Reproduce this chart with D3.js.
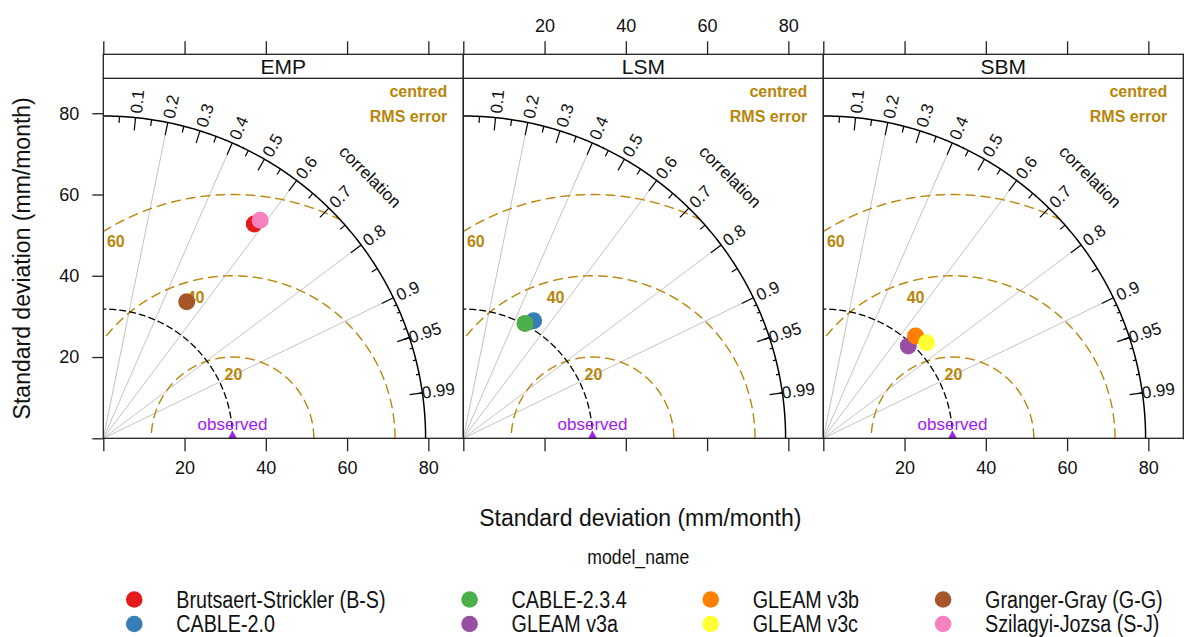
<!DOCTYPE html>
<html>
<head>
<meta charset="utf-8">
<script src="https://cdn.jsdelivr.net/npm/d3@7"></script>
<style>
  body { margin: 0; background: #fff; }
  text { font-family: "Liberation Sans", Arial, sans-serif; }
</style>
</head>
<body>
<div id="chart"></div>
<script>
// ---- data ----
var panels = ["EMP", "LSM", "SBM"];
var models = ["Brutsaert-Strickler (B-S)", "CABLE-2.0", "CABLE-2.3.4", "GLEAM v3a",
              "GLEAM v3b", "GLEAM v3c", "Granger-Gray (G-G)", "Szilagyi-Jozsa (S-J)"];
var modelColors = ["#E41A1C", "#377EB8", "#4DAF4A", "#984EA3", "#FF7F00", "#FFFF33", "#A65628", "#F781BF"];

var sdObs = 31.8;   // observed standard deviation (same in every panel)

// one entry per plotted model point
var pointPanel = ["EMP", "EMP", "EMP", "LSM", "LSM", "SBM", "SBM", "SBM"];
var pointModel = ["Brutsaert-Strickler (B-S)", "Granger-Gray (G-G)", "Szilagyi-Jozsa (S-J)",
                  "CABLE-2.0", "CABLE-2.3.4", "GLEAM v3a", "GLEAM v3b", "GLEAM v3c"];
var pointSd  = [64.5, 39.4, 66.1, 33.7, 32.1, 30.9, 33.9, 34.6];
var pointCor = [0.576, 0.521, 0.584, 0.514, 0.473, 0.677, 0.670, 0.734];

var axisTicks = [0, 20, 40, 60, 80];
var corLabels = [0.1, 0.2, 0.3, 0.4, 0.5, 0.6, 0.7, 0.8, 0.9, 0.95, 0.99];
var corMedTicks = [0.05, 0.15, 0.25, 0.35, 0.45, 0.55, 0.65, 0.75, 0.85, 0.95];
var corSmlTicks = [0.91, 0.92, 0.93, 0.94, 0.95, 0.96, 0.97, 0.98, 0.99];
var corLines = [0.2, 0.4, 0.6, 0.8, 0.9];

// ---- layout ----
var width = 1184, height = 637;
var marginLeft = 103.3, marginTop = 78.3;
var panelSize = 360, stripH = 24;
var rmsCol = "#B8860B", obsCol = "#A020F0";

var svg = d3.select("#chart")
    .append("svg")
    .attr("width", width)
    .attr("height", height);

var maxsd = 1.2 * d3.max(pointSd.concat([sdObs]));

var x = d3.scaleLinear().domain([0, 88.6]).range([0, panelSize]);
var y = d3.scaleLinear().domain([0, 88.6]).range([panelSize, 0]);
var color = d3.scaleOrdinal().domain(models).range(modelColors);

var line = d3.line()
    .x(function (d) { return x(d[0]); })
    .y(function (d) { return y(d[1]); });

function polar(r, a) { return [r * Math.cos(a), r * Math.sin(a)]; }
function arcPts(cx, r, a0, a1) {
    var pts = [];
    for (var a = a0; a <= a1 + 1e-9; a += 0.005) pts.push([cx + r * Math.cos(a), r * Math.sin(a)]);
    return pts;
}

// clip paths (user space of the un-transformed children inside each panel)
var defs = svg.append("defs");
defs.append("clipPath").attr("id", "plotClip")
    .append("rect").attr("x", 0).attr("y", 0).attr("width", panelSize).attr("height", panelSize);
defs.append("clipPath").attr("id", "diskClip")
    .append("path").attr("d", line([[0, 0]].concat(arcPts(0, maxsd, 0, Math.PI / 2))) + "Z");

var gammas = d3.ticks(0, maxsd, 4).filter(function (g) { return g <= maxsd; });

panels.forEach(function (p, i) {
    var g = svg.append("g")
        .attr("transform", "translate(" + (marginLeft + i * panelSize) + "," + marginTop + ")");

    var plot = g.append("g").attr("clip-path", "url(#plotClip)");

    // correlation grid lines
    plot.selectAll(".corLine").data(corLines).enter().append("path")
        .attr("d", function (c) { return line([[0, 0], polar(maxsd, Math.acos(c))]); })
        .attr("stroke", "#c4c4c4").attr("stroke-width", 1).attr("fill", "none");

    // centred RMS error circles
    var rms = plot.append("g").attr("clip-path", "url(#diskClip)");
    gammas.forEach(function (gm) {
        if (gm === 0) return;
        rms.append("path")
            .attr("d", line(arcPts(sdObs, gm, 0, Math.PI)))
            .attr("fill", "none").attr("stroke", rmsCol).attr("stroke-width", 1.4)
            .attr("stroke-dasharray", "10,5");
    });
    gammas.forEach(function (gm, k) {
        if (gm === 0) return;
        var idx = Math.floor(45 + k * 25 / (gammas.length - 1));
        var a = (idx - 1) * 0.03;
        var px = sdObs + gm * Math.cos(a), py = gm * Math.sin(a);
        plot.append("text")
            .attr("x", x(px)).attr("y", y(py) + 23)
            .attr("text-anchor", "middle")
            .attr("font-size", 16).attr("font-weight", "bold")
            .attr("fill", rmsCol).text(gm);
    });

    // observed sd arc
    plot.append("path")
        .attr("d", line(arcPts(0, sdObs, 0, Math.PI / 2)))
        .attr("fill", "none").attr("stroke", "#000").attr("stroke-width", 1.3)
        .attr("stroke-dasharray", "7,3");

    // outer arc
    plot.append("path")
        .attr("d", line(arcPts(0, maxsd, 0, Math.PI / 2)))
        .attr("fill", "none").attr("stroke", "#000").attr("stroke-width", 1.5);

    // correlation ticks
    function ticks(vals, frac) {
        plot.append("g").selectAll("path").data(vals).enter().append("path")
            .attr("d", function (c) {
                var a = Math.acos(c);
                return line([polar(maxsd, a), polar(maxsd * frac, a)]);
            })
            .attr("stroke", "#000").attr("stroke-width", 1.2);
    }
    ticks(corLabels, 0.96);
    ticks(corMedTicks, 0.98);
    ticks(corSmlTicks, 0.99);

    // correlation labels
    plot.append("g").selectAll("text").data(corLabels).enter().append("text")
        .attr("transform", function (c) {
            var a = Math.acos(c), pt = polar(maxsd * 1.05, a);
            return "translate(" + x(pt[0]) + "," + y(pt[1]) + ") rotate(" + (-a * 180 / Math.PI) + ")";
        })
        .attr("text-anchor", "middle").attr("dy", "0.35em")
        .attr("font-size", 17).attr("fill", "#111")
        .text(function (c) { return c; });

    var cp = polar(maxsd * 1.16, Math.PI / 4 - 0.01);
    plot.append("text")
        .attr("transform", "translate(" + x(cp[0]) + "," + y(cp[1]) + ") rotate(45)")
        .attr("text-anchor", "middle").attr("dy", "0.35em")
        .attr("font-size", 17).attr("fill", "#111")
        .text("correlation");

    // "centred RMS error"
    plot.append("text")
        .attr("x", x(maxsd * 1.067)).attr("y", y(maxsd * 1.06))
        .attr("text-anchor", "end").attr("font-size", 16).attr("font-weight", "bold")
        .attr("fill", rmsCol).text("centred");
    plot.append("text")
        .attr("x", x(maxsd * 1.067)).attr("y", y(maxsd * 0.98))
        .attr("text-anchor", "end").attr("font-size", 16).attr("font-weight", "bold")
        .attr("fill", rmsCol).text("RMS error");

    // observed point
    plot.append("text")
        .attr("x", x(sdObs)).attr("y", y(0) - 8)
        .attr("text-anchor", "middle").attr("font-size", 17)
        .attr("fill", obsCol).text("observed");
    plot.append("path")
        .attr("d", d3.symbol().type(d3.symbolTriangle).size(75))
        .attr("transform", "translate(" + x(sdObs) + "," + y(0) + ")")
        .attr("fill", obsCol);

    // model points
    var pts = [];
    for (var k = 0; k < pointPanel.length; k++) {
        if (pointPanel[k] === p) pts.push({ model: pointModel[k], sd: pointSd[k], cor: pointCor[k] });
    }
    pts.sort(function (a, b) { return models.indexOf(a.model) - models.indexOf(b.model); });
    plot.selectAll(".pt").data(pts).enter().append("circle")
        .attr("cx", function (d) { return x(d.sd * d.cor); })
        .attr("cy", function (d) { return y(d.sd * Math.sqrt(1 - d.cor * d.cor)); })
        .attr("r", 8.5)
        .attr("fill", function (d) { return color(d.model); });

    // axes
    var fmt = function (d) { return d === 0 ? "" : d; };
    var none = function () { return ""; };
    var bottom = g.append("g").attr("transform", "translate(0," + panelSize + ")")
        .call(d3.axisBottom(x).tickValues(axisTicks).tickSize(13).tickPadding(10)
            .tickFormat(i === 1 ? none : fmt));
    var topAx = g.append("g").attr("transform", "translate(0," + (-stripH) + ")")
        .call(d3.axisTop(x).tickValues(axisTicks).tickSize(13).tickPadding(9)
            .tickFormat(i === 1 ? fmt : none));
    var axes = [bottom, topAx];
    if (i === 0) {
        axes.push(g.append("g")
            .call(d3.axisLeft(y).tickValues(axisTicks).tickSize(11).tickPadding(13).tickFormat(fmt)));
    }
    if (i === panels.length - 1) {
        axes.push(g.append("g").attr("transform", "translate(" + panelSize + ",0)")
            .call(d3.axisRight(y).tickValues(axisTicks).tickSize(11).tickFormat(none)));
    }
    axes.forEach(function (a) {
        a.select(".domain").remove();
        a.selectAll("line").attr("stroke", "#222").attr("stroke-width", 1.3);
        a.selectAll("text").attr("font-size", 18).attr("fill", "#111")
            .attr("font-family", "Liberation Sans, Arial, sans-serif");
    });

    // panel frame and strip
    g.append("rect").attr("width", panelSize).attr("height", panelSize)
        .attr("fill", "none").attr("stroke", "#222").attr("stroke-width", 1.3);
    g.append("rect").attr("y", -stripH).attr("width", panelSize).attr("height", stripH)
        .attr("fill", "#fff").attr("stroke", "#222").attr("stroke-width", 1.3);
    g.append("text")
        .attr("x", panelSize / 2).attr("y", -stripH / 2).attr("dy", "0.36em")
        .attr("text-anchor", "middle").attr("font-size", 21).attr("fill", "#111")
        .text(p);
});

// axis titles
var midX = marginLeft + panels.length * panelSize / 2;
svg.append("text")
    .attr("x", midX - 3).attr("y", 518).attr("dy", "0.35em")
    .attr("text-anchor", "middle").attr("font-size", 23).attr("fill", "#111")
    .text("Standard deviation (mm/month)");
svg.append("text")
    .attr("transform", "translate(22," + (marginTop + panelSize / 2) + ") rotate(-90)")
    .attr("dy", "0.35em")
    .attr("text-anchor", "middle").attr("font-size", 23).attr("fill", "#111")
    .text("Standard deviation (mm/month)");

// legend
var squeeze = 0.84;
svg.append("text")
    .attr("transform", "translate(" + (midX - 5) + ",557) scale(" + squeeze + ",1)")
    .attr("dy", "0.35em").attr("text-anchor", "middle")
    .attr("font-size", 21).attr("fill", "#111").text("model_name");

var legend = svg.append("g");
var nCols = Math.ceil(models.length / 2);
var colX = 0;
for (var c = 0; c < nCols; c++) {
    var maxW = 0;
    for (var r = 0; r < 2; r++) {
        var m = models[c * 2 + r];
        if (!m) continue;
        var it = legend.append("g").attr("transform", "translate(" + colX + "," + (599.5 + r * 24.5) + ")");
        it.append("circle").attr("r", 8.3).attr("fill", color(m));
        var t = it.append("text")
            .attr("transform", "translate(42,0) scale(" + squeeze + ",1)")
            .attr("dy", "0.35em").attr("font-size", 23.5).attr("fill", "#111").text(m);
        maxW = Math.max(maxW, t.node().getComputedTextLength() * squeeze);
    }
    colX += 42 + maxW + 84;
}
var bb = legend.node().getBBox();
legend.attr("transform", "translate(" + (midX + 1 - (bb.x + bb.width / 2)) + ",0)");
</script>
</body>
</html>
